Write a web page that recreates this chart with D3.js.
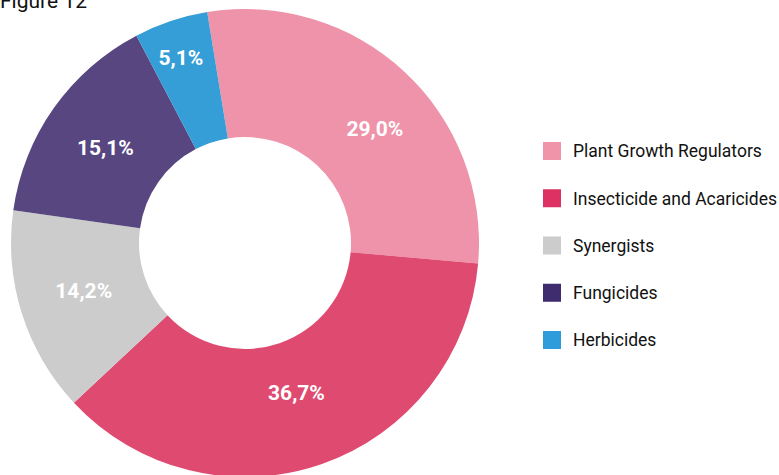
<!DOCTYPE html>
<html>
<head>
<meta charset="utf-8">
<script src="https://cdn.jsdelivr.net/npm/d3@7"></script>
<style>
  body { margin: 0; background: #fff; }
  svg { display: block; }
</style>
</head>
<body>
<svg id="svg" width="779" height="475"></svg>
<script>
const categories = ['Plant Growth Regulators', 'Insecticide and Acaricides', 'Synergists', 'Fungicides', 'Herbicides']
const shares = [29.0, 36.7, 14.2, 15.1, 5.1]
const labels = ['29,0%', '36,7%', '14,2%', '15,1%', '5,1%']
const sliceColors = ['#ee93a9', '#df4a71', '#cccccc', '#584681', '#359ed7']
const legendColors = ['#f094aa', '#dc3162', '#cccccc', '#3e2c6e', '#2e9bda']

const $svg = d3.select('#svg')

const cx = 245
const cy = 243
const outerR = 234
const innerR = 106

$svg.append('text')
  .attr('x', 0)
  .attr('y', 8)
  .attr('font-family', 'Roboto, "Liberation Sans", sans-serif')
  .attr('font-size', 21)
  .attr('fill', '#111')
  .text('Figure 12')

const data = categories.map((name, i) => ({ name, value: shares[i], label: labels[i], color: sliceColors[i] }))

const startRad = -9.3 * Math.PI / 180
const pie = d3.pie()
  .sort(null)
  .value(d => d.value)
  .startAngle(startRad)
  .endAngle(startRad + 2 * Math.PI)

const arc = d3.arc()
  .innerRadius(innerR)
  .outerRadius(outerR)

const $g = $svg.append('g')
  .attr('transform', `translate(${cx},${cy})`)

const arcs = pie(data)

$g.selectAll('path')
  .data(arcs)
  .join('path')
  .attr('d', arc)
  .attr('fill', d => d.data.color)

// label radius and angle nudges (small slice pushed outward)
const labelPos = (d, i) => {
  const tweaks = [
    { r: 173, da: 5.8 },
    { r: 158, da: 0 },
    { r: 168, da: 1.2 },
    { r: 169, da: -0.9 },
    { r: 196, da: -0.6 }
  ]
  const t = tweaks[i]
  const a = (d.startAngle + d.endAngle) / 2 + t.da * Math.PI / 180
  return [Math.sin(a) * t.r, -Math.cos(a) * t.r]
}

$g.selectAll('text.lbl')
  .data(arcs)
  .join('text')
  .attr('class', 'lbl')
  .attr('transform', (d, i) => `translate(${labelPos(d, i)})`)
  .attr('text-anchor', 'middle')
  .attr('dy', '0.36em')
  .attr('font-family', 'Roboto, "Liberation Sans", sans-serif')
  .attr('font-weight', 'bold')
  .attr('font-size', 21)
  .attr('fill', '#fff')
  .text(d => d.data.label)

const legendY = d3.scalePoint()
  .domain(categories)
  .range([151, 340])

const $legend = $svg.append('g')
  .selectAll('g')
  .data(categories)
  .join('g')
  .attr('transform', d => `translate(543,${legendY(d)})`)

$legend.append('rect')
  .attr('x', 0)
  .attr('y', -9)
  .attr('width', 18)
  .attr('height', 18)
  .attr('fill', (d, i) => legendColors[i])

$legend.append('text')
  .attr('x', 30)
  .attr('y', 0)
  .attr('dy', '0.36em')
  .attr('font-family', 'Roboto, "Liberation Sans", sans-serif')
  .attr('font-size', 17.5)
  .attr('fill', '#111')
  .text(d => d)
</script>
</body>
</html>
